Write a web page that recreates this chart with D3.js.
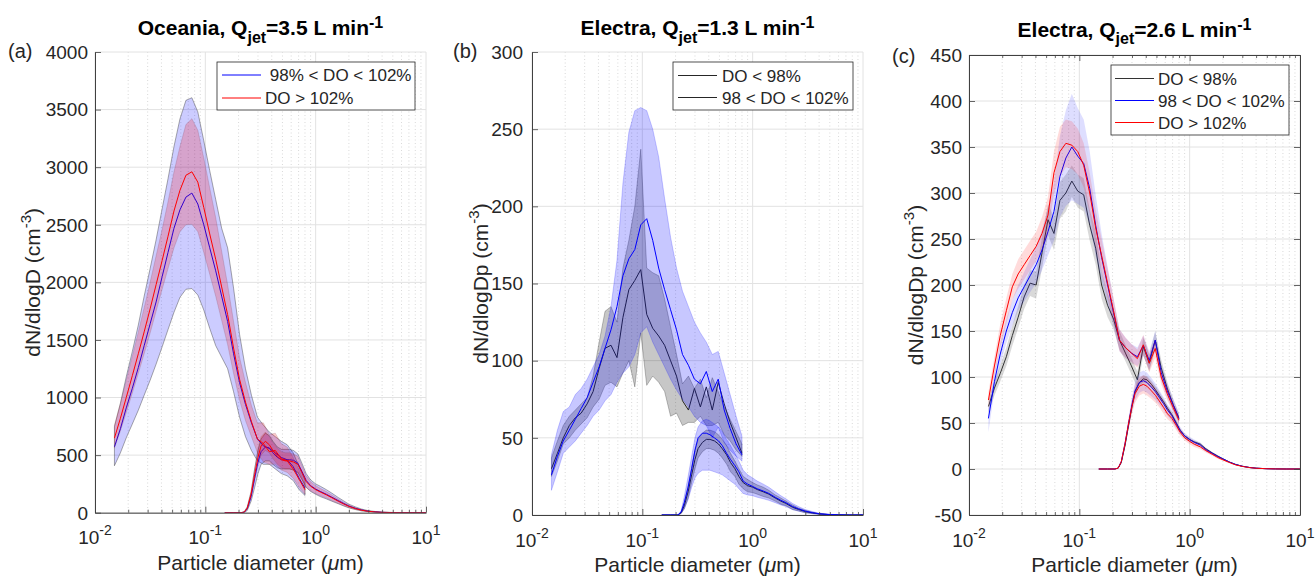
<!DOCTYPE html>
<html>
<head>
<meta charset="utf-8">
<script src="https://cdn.jsdelivr.net/npm/d3@7"></script>
<style>
  body { margin: 0; background: #fff; }
  svg text { font-family: "Liberation Sans", Arial, Helvetica, sans-serif; fill: #262626; }
</style>
</head>
<body>
<svg id="fig" width="1315" height="578"></svg>
<script>
// diameter grids (um): SMPS-like scan and APS-like scan
var smpsD = [0.0150,0.0170,0.0192,0.0218,0.0247,0.0279,0.0316,0.0358,0.0406,0.0459,0.0520,0.0589,0.0667,0.0755,0.0855,0.0968,0.1096,0.1242,0.1406,0.1592,0.1803,0.2042,0.2312,0.2618,0.2965,0.3357,0.3802,0.4305,0.4875,0.5521,0.6252,0.7079,0.8000];
var apsD = [0.15,0.18,0.21,0.225,0.24,0.26,0.28,0.30,0.32,0.35,0.38,0.41,0.45,0.49,0.53,0.58,0.63,0.69,0.75,0.82,0.9,1.0,1.1,1.25,1.4,1.6,1.8,2.0,2.3,2.6,3.0,3.5,4.0,5.0,6.0,7.5,10];

// ---- panel (a) Oceania ----
var aSmpsBlue   = [572,730,910,1080,1260,1450,1640,1830,2050,2260,2470,2630,2740,2775,2680,2500,2300,2100,1880,1660,1380,1130,940,780,640,580,560,520,480,460,400,300,214];
var aSmpsBlueLo = [408,520,650,770,890,1020,1150,1290,1440,1590,1740,1870,1940,1946,1890,1760,1600,1450,1350,1250,1050,830,660,540,450,420,420,380,340,320,280,200,150];
var aSmpsBlueHi = [746,950,1180,1400,1630,1880,2120,2370,2640,2900,3180,3420,3580,3603,3480,3230,2970,2720,2470,2300,1950,1550,1250,1020,830,760,700,660,620,590,520,400,280];
var aSmpsRed    = [648,820,1000,1190,1380,1570,1770,1980,2190,2400,2620,2800,2930,2960,2870,2650,2420,2200,1960,1720,1430,1160,960,790,640,600,530,540,470,450,380,290,200];
var aSmpsRedLo  = [560,710,870,1040,1210,1380,1560,1750,1940,2120,2300,2440,2500,2504,2440,2260,2070,1880,1670,1460,1210,980,800,660,520,440,420,420,370,350,300,220,160];
var aSmpsRedHi  = [760,950,1150,1360,1570,1780,2000,2230,2460,2700,2960,3180,3370,3421,3320,3080,2820,2560,2270,1980,1660,1350,1130,930,780,780,680,690,600,570,480,370,250];
var aApsBlue    = [0,0,0,4,35,140,300,440,530,570,560,520,480,460,460,460,455,430,360,280,235,205,185,160,135,105,80,58,38,24,13,7,3,1,0,0,0];
var aApsBlueLo  = [0,0,0,0,20,100,220,340,420,450,450,420,390,380,380,380,370,350,290,220,185,160,140,120,100,78,58,42,27,16,8,4,2,0,0,0,0];
var aApsBlueHi  = [0,0,0,8,50,180,380,540,640,690,670,620,570,550,550,550,540,510,430,340,285,250,230,200,170,132,102,74,50,32,18,10,5,2,1,0,0];
var aApsRed     = [0,0,0,5,40,160,330,480,580,620,590,540,490,460,450,450,440,420,350,270,230,200,180,155,130,100,75,55,35,22,12,6,3,1,0,0,0];
var aApsRedLo   = [0,0,0,3,30,130,280,410,500,540,520,470,420,390,380,380,370,350,290,220,190,165,148,127,106,82,61,44,28,17,9,4,2,0,0,0,0];
var aApsRedHi   = [0,0,0,7,50,190,380,550,660,700,660,610,560,530,520,520,510,490,410,320,270,235,212,183,154,118,89,66,42,27,15,8,4,2,0,0,0];

// ---- panel (b) Electra 1.3 L/min ----
var bSmpsBlack  = [30,40,50,58,63,66,72,80,95,108,110,102,128,146,152,159,130,121,116,110,100,90,74,68,82,70,83,68,86,72,60,50,40];
var bSmpsGrayLo = [25,35,46,50,55,59,63,70,75,84,86,83,92,100,83,118,84,90,86,80,64,66,58,60,60,64,58,58,60,52,48,42,38];
var bSmpsGrayHi = [37,48,58,64,68,72,76,90,112,132,135,125,160,178,200,237,160,157,155,140,122,104,85,90,82,88,76,89,80,70,62,54,46];
var bSmpsBlue   = [26,38,48,55,62,69,76,86,96,108,120,135,155,166,172,188,192,178,160,146,133,120,104,97,88,85,93,80,88,68,56,46,39];
var bSmpsBlueLo = [16,28,40,44,48,53,58,64,68,74,78,86,92,96,104,118,122,112,104,96,88,81,75,70,64,60,58,50,57,47,42,38,35];
var bSmpsBlueHi = [39,55,67,70,78,82,88,96,104,116,135,165,215,248,262,264,262,250,232,205,180,160,145,135,125,118,112,104,106,92,78,64,51];
var bApsBlack   = [0,0,0,1.5,6,15,26,36,43,47,49,49,48,46,43,39,34,30,25,21,19,18,16.5,15,13.5,11,9,7.5,5,3.6,2.2,1.3,0.7,0.2,0.1,0,0];
var bApsGrayLo  = [0,0,0,1,4,11,21,30,37,41,43,43,42,40,37,33,28,25,20,17,15,14.5,13.5,12,11,9,7,6,3.5,2.7,1.4,0.9,0.5,0.1,0,0,0];
var bApsGrayHi  = [0,0,0,2,8,19,31,42,49,53,55,55,54,52,49,45,40,35,30,25,23,21,19.5,18,16,13,11,9,6.5,4.5,3,1.7,0.9,0.3,0.1,0,0];
var bApsBlue    = [0,0,0,2,8,18,30,42,50,53,53,52,50,48,45,40,36,32,28,22,20,18.5,17,15.5,14,11.5,9.5,8,5.5,4,2.5,1.5,0.8,0.3,0.1,0,0];
var bApsBlueLo  = [0,0,0,1,4,10,18,24,27,29,29,29,28,27,26,24,22,20,17,14,13,12.5,11.5,10.5,9.5,8,6.5,5.5,3.5,2.5,1.5,0.8,0.4,0.1,0,0,0];
var bApsBlueHi  = [0,0,0,3,12,25,38,50,57,61,62,61,59,57,54,49,45,40,35,29,26,24,22,20,18,15,12.5,10.5,7.5,5.5,3.5,2.2,1.2,0.5,0.2,0,0];

// ---- panel (c) Electra 2.6 L/min ----
var cSmpsBlack  = [68,88,104,122,145,165,187,202,200,235,271,256,292,300,313,302,298,265,240,200,178,163,140,126,112,97,133,115,140,110,88,70,55];
var cSmpsGrayLo = [61,80,95,112,134,153,174,188,185,218,254,238,272,280,296,284,280,248,222,185,165,152,130,117,103,88,123,106,130,101,81,64,50];
var cSmpsGrayHi = [75,96,113,132,156,177,200,216,215,252,288,274,312,320,330,320,316,282,258,215,191,174,150,135,121,106,143,124,150,119,95,76,60];
var cSmpsBlue   = [55,95,125,150,170,186,198,210,222,238,258,280,318,338,350,340,332,305,265,230,200,170,140,132,126,122,134,118,140,105,85,70,55];
var cSmpsBlueLo = [40,85,113,137,156,172,182,192,202,216,232,248,274,286,292,288,284,265,232,204,180,155,128,121,116,112,123,108,130,96,77,63,49];
var cSmpsBlueHi = [66,105,137,163,184,200,214,228,242,260,284,312,362,390,408,392,380,345,298,256,220,185,152,143,136,132,145,128,150,114,93,77,61];
var cSmpsRed    = [75,112,145,172,198,212,222,232,242,256,276,322,345,354,352,345,330,300,262,232,202,172,140,132,126,120,135,115,131,100,82,67,53];
var cSmpsRedLo  = [66,102,132,158,184,196,206,216,226,238,256,299,318,328,326,320,306,278,242,214,186,158,128,121,116,110,124,105,121,92,75,61,48];
var cSmpsRedHi  = [84,122,158,186,212,228,238,248,258,274,296,345,372,380,378,370,354,322,282,250,218,186,152,143,136,130,146,125,141,108,89,73,58];
var cApsBlack   = [0,0,0,1,7,26,48,68,84,94,98,97,92,86,80,73,66,59,51,42,36,32,29.5,27,22,17.5,14,11,7.5,5,3,1.6,0.9,0.3,0.1,0,0];
var cApsGrayLo  = [0,0,0,0.7,6,24,45,64,80,90,94,93,88,82,76,70,63,56,48,40,34,30,28,25.5,21,16.5,13,10.4,7,4.7,2.8,1.5,0.8,0.3,0.1,0,0];
var cApsGrayHi  = [0,0,0,1.3,8,28,51,72,88,98,102,101,96,90,84,76,69,62,54,44,38,34,31,28.5,23,18.5,15,11.6,8,5.3,3.2,1.7,1,0.3,0.1,0,0];
var cApsBlue    = [0,0,0,1,8,28,50,70,85,94,96,94,89,84,78,71,64,58,50,42,36,32,29,26,21,17,13.5,11,7.5,5,3,1.6,0.9,0.3,0.1,0,0];
var cApsBlueLo  = [0,0,0,0.5,6,24,44,62,75,83,85,83,79,75,70,64,58,52,45,38,33,29,26,23.5,19,15.5,12,10,6.8,4.5,2.7,1.4,0.8,0.2,0,0,0];
var cApsBlueHi  = [0,0,0,1.5,10,32,56,78,95,105,107,105,99,93,86,78,70,64,55,46,39,35,32,28.5,23,18.5,15,12,8.2,5.5,3.3,1.8,1,0.4,0.1,0,0];
var cApsRed     = [0,0,0,1,8,28,50,68,82,90,92,90,85,80,74,67,60,55,48,40,34,30,27,24,20,16,12.5,10,7,4.5,2.8,1.5,0.8,0.3,0.1,0,0];
var cApsRedLo   = [0,0,0,0.5,6,24,44,60,72,80,82,80,76,72,67,60,54,50,43,36,31,27,24,21.5,18,14.5,11,9,6,4,2.4,1.2,0.6,0.2,0,0,0];
var cApsRedHi   = [0,0,0,1.5,10,32,56,76,92,100,102,100,94,88,81,74,66,60,53,44,37,33,30,26.5,22,17.5,14,11,8,5,3.2,1.8,1,0.4,0.1,0,0];

// tick labels
var xTickExp = [-2,-1,0,1];
var aYTicks = [0,500,1000,1500,2000,2500,3000,3500,4000];
var bYTicks = [0,50,100,150,200,250,300];
var cYTicks = [-50,0,50,100,150,200,250,300,350,400,450];

// colours / styles
var BLUE = "#0000ff", RED = "#ff0000", BLACK = "#262626";

// helper: group d/mean/lo/hi into one series
function series(d, mean, lo, hi){
  return d.map(function(v,i){ return {d:v, m:mean[i], lo:lo[i], hi:hi[i]}; });
}

var panels = [
  {letter:"(a)", left:95, right:426, top:52, bottom:512.7, yTicks:aYTicks,
   title:["Oceania, Q","jet","=3.5 L min","-1"], titleY:35, letterX:8, letterY:58,
   ylab:"dN/dlogD", ylabX:40, tickRight:88, box:false,
   layers:[
     {data:[series(smpsD,aSmpsBlue,aSmpsBlueLo,aSmpsBlueHi), series(apsD,aApsBlue,aApsBlueLo,aApsBlueHi)],
      color:BLUE, fill:"rgba(0,0,255,0.2)", edge:"rgba(60,60,60,0.55)"},
     {data:[series(smpsD,aSmpsRed,aSmpsRedLo,aSmpsRedHi), series(apsD,aApsRed,aApsRedLo,aApsRedHi)],
      color:RED, fill:"rgba(255,0,0,0.2)", edge:"rgba(120,60,80,0.25)"}
   ],
   legend:{x:217, y:62, w:198, h:48, lx:222, tx:265, rows:[[" 98% < DO < 102%",BLUE],["DO > 102%",RED]], rowY:[75,98]}},
  {letter:"(b)", left:532, right:863, top:52, bottom:515, yTicks:bYTicks,
   title:["Electra, Q","jet","=1.3 L min","-1"], titleY:35, letterX:453, letterY:58,
   ylab:"dN/dlogDp", ylabX:488, tickRight:523, box:false,
   layers:[
     {data:[series(smpsD,bSmpsBlack,bSmpsGrayLo,bSmpsGrayHi), series(apsD,bApsBlack,bApsGrayLo,bApsGrayHi)],
      color:BLACK, fill:"rgba(0,0,0,0.22)", edge:"rgba(0,0,0,0.3)"},
     {data:[series(smpsD,bSmpsBlue,bSmpsBlueLo,bSmpsBlueHi), series(apsD,bApsBlue,bApsBlueLo,bApsBlueHi)],
      color:BLUE, fill:"rgba(0,0,255,0.22)", edge:"rgba(0,0,255,0.25)"}
   ],
   legend:{x:673, y:62, w:180, h:48, lx:678, tx:722, rows:[["DO < 98%",BLACK],["98 < DO < 102%",BLACK]], rowY:[75.5,97.5]}},
  {letter:"(c)", left:969, right:1300, top:55, bottom:515, yTicks:cYTicks,
   title:["Electra, Q","jet","=2.6 L min","-1"], titleY:36.5, letterX:892, letterY:63,
   ylab:"dN/dlogDp", ylabX:923, tickRight:962, box:true,
   layers:[
     {data:[series(smpsD,cSmpsBlack,cSmpsGrayLo,cSmpsGrayHi), series(apsD,cApsBlack,cApsGrayLo,cApsGrayHi)],
      color:"#333333", fill:"rgba(0,0,0,0.15)", edge:"none"},
     {data:[series(smpsD,cSmpsBlue,cSmpsBlueLo,cSmpsBlueHi), series(apsD,cApsBlue,cApsBlueLo,cApsBlueHi)],
      color:BLUE, fill:"rgba(0,0,255,0.13)", edge:"none"},
     {data:[series(smpsD,cSmpsRed,cSmpsRedLo,cSmpsRedHi), series(apsD,cApsRed,cApsRedLo,cApsRedHi)],
      color:RED, fill:"rgba(255,0,0,0.14)", edge:"none"}
   ],
   legend:{x:1111, y:65, w:178, h:70, lx:1115, tx:1158, rows:[["DO < 98%","#333333"],["98 < DO < 102%",BLUE],["DO > 102%",RED]], rowY:[78.5,100.5,122.5]}}
];

var svg = d3.select("#fig");

panels.forEach(function(p, pi){ drawPanel(p, pi); });

function drawPanel(p, pi){
  var x = d3.scaleLog().domain([0.01,10]).range([p.left,p.right]);
  var y = d3.scaleLinear().domain([p.yTicks[0], p.yTicks[p.yTicks.length-1]]).range([p.bottom,p.top]);
  var g = svg.append("g");

  var allX = x.ticks();
  var majors = allX.filter(function(v){ return Math.abs(Math.log10(v) - Math.round(Math.log10(v))) < 1e-9; });
  var minors = allX.filter(function(v){ return majors.indexOf(v) < 0; });

  // grid
  g.selectAll(".xmin").data(minors).enter().append("line")
    .attr("x1",x).attr("x2",x).attr("y1",p.top).attr("y2",p.bottom)
    .attr("stroke","#cfcfcf").attr("stroke-width",0.8).attr("stroke-dasharray","1,2.5");
  g.selectAll(".xmaj").data(majors).enter().append("line")
    .attr("x1",x).attr("x2",x).attr("y1",p.top).attr("y2",p.bottom)
    .attr("stroke","#e2e2e2").attr("stroke-width",1);
  g.selectAll(".ymaj").data(p.yTicks).enter().append("line")
    .attr("x1",p.left).attr("x2",p.right).attr("y1",y).attr("y2",y)
    .attr("stroke","#e2e2e2").attr("stroke-width",1);

  // clip
  var cid = "clip" + pi;
  svg.append("clipPath").attr("id",cid).append("rect")
    .attr("x",p.left).attr("y",p.top).attr("width",p.right-p.left).attr("height",p.bottom-p.top);
  var plot = g.append("g").attr("clip-path","url(#"+cid+")");

  var area = d3.area().x(function(d){ return x(d.d); })
    .y0(function(d){ return y(d.lo); }).y1(function(d){ return y(d.hi); });
  var line = d3.line().x(function(d){ return x(d.d); }).y(function(d){ return y(d.m); });

  p.layers.forEach(function(L){
    L.data.forEach(function(s){
      plot.append("path").attr("d",area(s)).attr("fill",L.fill)
        .attr("stroke",L.edge).attr("stroke-width",0.8);
    });
    L.data.forEach(function(s){
      plot.append("path").attr("d",line(s)).attr("fill","none")
        .attr("stroke",L.color).attr("stroke-width",1);
    });
  });

  // axes
  var axCol = "#404040";
  var gx = g.append("g").attr("transform","translate(0,"+p.bottom+")")
    .call(d3.axisBottom(x).tickValues(majors).tickSize(-6).tickSizeOuter(0).tickFormat(""));
  var gxm = g.append("g").attr("transform","translate(0,"+p.bottom+")")
    .call(d3.axisBottom(x).tickValues(minors).tickSize(-3).tickSizeOuter(0).tickFormat(""));
  gxm.select(".domain").remove();
  var gy = g.append("g").attr("transform","translate("+p.left+",0)")
    .call(d3.axisLeft(y).tickValues(p.yTicks).tickSize(-6).tickSizeOuter(0).tickFormat(""));
  var axes = [gx,gxm,gy];
  if (p.box){
    var gt = g.append("g").attr("transform","translate(0,"+p.top+")")
      .call(d3.axisTop(x).tickValues(majors).tickSize(-6).tickSizeOuter(0).tickFormat(""));
    var gtm = g.append("g").attr("transform","translate(0,"+p.top+")")
      .call(d3.axisTop(x).tickValues(minors).tickSize(-3).tickSizeOuter(0).tickFormat(""));
    gtm.select(".domain").remove();
    var gr = g.append("g").attr("transform","translate("+p.right+",0)")
      .call(d3.axisRight(y).tickValues(p.yTicks).tickSize(-6).tickSizeOuter(0).tickFormat(""));
    axes.push(gt,gtm,gr);
  }
  axes.forEach(function(a){
    a.selectAll(".domain").attr("stroke",axCol).attr("stroke-width",1);
    a.selectAll(".tick line").attr("stroke",axCol).attr("stroke-width",0.8);
  });

  // y tick labels
  g.selectAll(".ylab").data(p.yTicks).enter().append("text")
    .attr("x",p.tickRight).attr("y",function(v){ return y(v)+6.8; })
    .attr("text-anchor","end").attr("font-size",19).text(function(v){ return v; });

  // x tick labels 10^n
  majors.forEach(function(v,i){
    var t = g.append("text").attr("x",x(v)).attr("y",p.bottom+31.5)
      .attr("text-anchor","middle").attr("font-size",19);
    t.append("tspan").text("10");
    t.append("tspan").attr("dy",-9).attr("font-size",14).text(xTickExp[i]);
  });

  // x label
  var xl = g.append("text").attr("x",(p.left+p.right)/2).attr("y",p.bottom+57)
    .attr("text-anchor","middle").attr("font-size",21);
  xl.append("tspan").text("Particle diameter (");
  xl.append("tspan").attr("font-style","italic").text("\u03bc");
  xl.append("tspan").text("m)");

  // y label
  var yl = g.append("text")
    .attr("transform","translate("+p.ylabX+","+((p.top+p.bottom)/2)+") rotate(-90)")
    .attr("text-anchor","middle").attr("font-size",21);
  yl.append("tspan").text(p.ylab + " (cm");
  yl.append("tspan").attr("dy",-9).attr("font-size",15).text("-3");
  yl.append("tspan").attr("dy",9).text(")");

  // title
  var tt = g.append("text").attr("x",(p.left+p.right)/2).attr("y",p.titleY)
    .attr("text-anchor","middle").attr("font-size",21).attr("font-weight","bold").attr("fill","#000");
  tt.append("tspan").text(p.title[0]);
  tt.append("tspan").attr("dy",7.5).attr("font-size",16).text(p.title[1]);
  tt.append("tspan").attr("dy",-7.5).text(p.title[2]);
  tt.append("tspan").attr("dy",-7).attr("font-size",16).text(p.title[3]);
  tt.selectAll("tspan").attr("fill","#000");

  // panel letter
  g.append("text").attr("x",p.letterX).attr("y",p.letterY).attr("font-size",20).text(p.letter);

  // legend
  var lg = p.legend;
  g.append("rect").attr("x",lg.x).attr("y",lg.y).attr("width",lg.w).attr("height",lg.h)
    .attr("fill","#fff").attr("stroke","#262626").attr("stroke-width",0.8);
  lg.rows.forEach(function(r,i){
    g.append("line").attr("x1",lg.lx).attr("x2",lg.lx+39).attr("y1",lg.rowY[i]).attr("y2",lg.rowY[i])
      .attr("stroke",r[1]).attr("stroke-width",1);
    g.append("text").attr("x",lg.tx).attr("y",lg.rowY[i]+6).attr("font-size",17)
      .style("white-space","pre").text(r[0]);
  });
}
</script>
</body>
</html>
